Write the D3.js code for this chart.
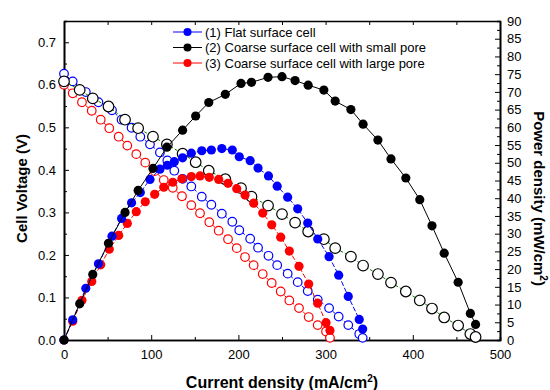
<!DOCTYPE html>
<html>
<head>
<meta charset="utf-8">
<script src="https://cdn.jsdelivr.net/npm/d3@7"></script>
<style>
  body { margin: 0; background: #fff; }
  svg { display: block; font-family: 'Liberation Sans', Arial, sans-serif; }
  .axis path, .axis line { stroke: #000; }
  .axis text { font-size: 13px; fill: #000; }
</style>
</head>
<body>
<svg id="chart" width="550" height="390"></svg>
<script>
// Cell (1) flat surface
const flatCurrent = [0, 10, 25, 39.5, 55, 66, 77.5, 87.5, 98.6, 110, 118.5, 126.5, 136, 146, 158, 169, 181, 193, 201, 213.5, 222.5, 234.5, 244.5, 256.5, 268, 279.5, 291, 304, 315, 326, 338.6, 342.5];
const flatVoltage = [0.626, 0.608, 0.583, 0.559, 0.540, 0.518, 0.499, 0.478, 0.460, 0.441, 0.422, 0.398, 0.379, 0.361, 0.337, 0.318, 0.297, 0.278, 0.258, 0.238, 0.217, 0.198, 0.176, 0.156, 0.136, 0.115, 0.095, 0.075, 0.055, 0.035, 0.014, 0.005];
const flatPower = [0, 5.7, 14.6, 21.5, 29.3, 34.3, 38.7, 41.6, 45.3, 48.2, 49.3, 50.3, 51.4, 52.7, 53.4, 53.6, 54.0, 53.6, 51.7, 50.6, 48.5, 46.3, 43.4, 40.3, 37.0, 33.0, 28.5, 23.5, 18.3, 12.3, 5.8, 3.1];

// Cell (2) coarse surface, small pore
const smallCurrent = [0, 18, 33, 51, 70, 85, 102, 118, 136, 151, 166, 185, 203, 215, 234, 250, 265, 280, 298, 311, 329, 343, 360, 375, 392, 408, 422, 436, 452, 466, 472];
const smallVoltage = [0.608, 0.588, 0.568, 0.549, 0.518, 0.498, 0.478, 0.460, 0.438, 0.418, 0.398, 0.378, 0.357, 0.337, 0.316, 0.296, 0.276, 0.255, 0.237, 0.216, 0.196, 0.175, 0.155, 0.135, 0.114, 0.093, 0.074, 0.053, 0.034, 0.014, 0.007];
const smallPower = [0, 10.2, 18.5, 27.3, 36.0, 42.2, 48.4, 54.4, 59.2, 63.2, 67.0, 69.3, 72.4, 72.7, 74.1, 74.3, 73.2, 71.9, 70.5, 67.4, 65.0, 60.9, 56.4, 51.1, 45.7, 39.6, 32.2, 24.5, 16.3, 7.5, 4.4];

// Cell (3) coarse surface, large pore
const largeCurrent = [0, 10, 20.6, 31.8, 42.1, 51.9, 62.7, 72.6, 82.9, 93.2, 104, 114.4, 124.7, 135.3, 146, 156, 166.6, 177.4, 188.1, 198.1, 207.6, 217.5, 227.9, 238.2, 248.5, 258.4, 269.5, 280.6, 290.9, 300.5, 305];
const largeVoltage = [0.600, 0.580, 0.559, 0.539, 0.518, 0.498, 0.478, 0.457, 0.437, 0.417, 0.397, 0.376, 0.358, 0.338, 0.317, 0.298, 0.277, 0.257, 0.237, 0.216, 0.195, 0.176, 0.155, 0.134, 0.114, 0.093, 0.075, 0.054, 0.035, 0.020, 0.005];
const largePower = [0, 5.3, 11.2, 16.5, 21.2, 25.6, 29.5, 32.9, 36.2, 39.0, 41.1, 43.1, 44.5, 45.5, 46.1, 46.3, 45.9, 45.3, 44.2, 42.7, 40.9, 38.6, 35.8, 32.5, 29.0, 25.1, 20.8, 15.8, 10.4, 4.9, 2.7];

const legendLabels = [
  '(1) Flat surface cell',
  '(2) Coarse surface cell with small pore',
  '(3) Coarse surface cell with large pore',
];

const xTicks = [0, 100, 200, 300, 400, 500];
const voltageTicks = [0, 0.1, 0.2, 0.3, 0.4, 0.5, 0.6, 0.7];
const powerTicks = d3.range(0, 91, 5);

const svg = d3.select('#chart');

const margin = { top: 21, right: 50, bottom: 50, left: 64 };
const W = 550, H = 390;
const plotW = W - margin.left - margin.right;
const plotH = H - margin.top - margin.bottom;

const x = d3.scaleLinear().domain([0, 500]).range([margin.left, margin.left + plotW]);
const yV = d3.scaleLinear().domain([0, 0.75]).range([margin.top + plotH, margin.top]);
const yP = d3.scaleLinear().domain([0, 90]).range([margin.top + plotH, margin.top]);

//
// Axes (ticks point inward)
//

const bottom = margin.top + plotH;
const right = margin.left + plotW;

// bottom
svg.append('g').attr('class', 'axis')
  .attr('transform', `translate(0,${bottom})`)
  .call(d3.axisBottom(x).tickValues(d3.range(50, 500, 100)).tickSize(-3).tickFormat(''));
svg.append('g').attr('class', 'axis')
  .attr('transform', `translate(0,${bottom})`)
  .call(d3.axisBottom(x).tickValues(xTicks).tickSize(-5).tickSizeOuter(0).tickPadding(10));

// top
svg.append('g').attr('class', 'axis')
  .attr('transform', `translate(0,${margin.top})`)
  .call(d3.axisTop(x).tickValues(d3.range(50, 500, 50)).tickSize(-4).tickSizeOuter(0).tickFormat(''));

// left
svg.append('g').attr('class', 'axis')
  .attr('transform', `translate(${margin.left},0)`)
  .call(d3.axisLeft(yV).tickValues(d3.range(0.05, 0.75, 0.1)).tickSize(-3).tickFormat(''));
svg.append('g').attr('class', 'axis')
  .attr('transform', `translate(${margin.left},0)`)
  .call(d3.axisLeft(yV).tickValues(voltageTicks).tickSize(-5).tickSizeOuter(0).tickPadding(8).tickFormat(d3.format('.1f')));

// right
svg.append('g').attr('class', 'axis')
  .attr('transform', `translate(${right},0)`)
  .call(d3.axisRight(yP).tickValues(d3.range(2.5, 90, 5)).tickSize(-3).tickFormat(''));
svg.append('g').attr('class', 'axis')
  .attr('transform', `translate(${right},0)`)
  .call(d3.axisRight(yP).tickValues(powerTicks).tickSize(-5).tickSizeOuter(0).tickPadding(7));

svg.selectAll('.axis path.domain').attr('stroke-width', 1.6);

//
// Axis titles
//

svg.append('text')
  .attr('transform', `translate(22,${margin.top + plotH / 2 + 8}) rotate(-90)`)
  .attr('text-anchor', 'middle')
  .attr('dy', '0.35em')
  .style('font-size', '15px').style('font-weight', 'bold')
  .text('Cell Voltage (V)');

const xTitle = svg.append('text')
  .attr('x', 282).attr('y', 388)
  .attr('text-anchor', 'middle')
  .style('font-size', '16px').style('font-weight', 'bold');
xTitle.append('tspan').text('Current density (mA/cm');
xTitle.append('tspan').attr('dy', -6).style('font-size', '10px').text('2');
xTitle.append('tspan').attr('dy', 6).text(')');

const pTitle = svg.append('text')
  .attr('transform', `translate(534,${margin.top + plotH / 2 + 18}) rotate(90)`)
  .attr('text-anchor', 'middle')
  .style('font-size', '15px').style('font-weight', 'bold');
pTitle.append('tspan').text('Power density (mW/cm');
pTitle.append('tspan').attr('dy', -6).style('font-size', '10px').text('2');
pTitle.append('tspan').attr('dy', 6).text(')');

//
// Series
//

const plot = svg.append('g');

function drawSeries(current, values, yScale, opts) {
  const pts = current.map((c, i) => [c, values[i]]);
  const line = d3.line().x((d) => x(d[0])).y((d) => yScale(d[1]));
  plot.append('path')
    .datum(pts)
    .attr('fill', 'none')
    .attr('stroke', opts.line)
    .attr('stroke-width', 1)
    .attr('stroke-dasharray', opts.dash)
    .attr('d', line);
  plot.append('g').selectAll('circle')
    .data(pts)
    .join('circle')
    .attr('cx', (d) => x(d[0]))
    .attr('cy', (d) => yScale(d[1]))
    .attr('r', opts.r)
    .attr('fill', opts.filled ? opts.color : '#fff')
    .attr('stroke', opts.color)
    .attr('stroke-width', opts.filled ? 0 : 1.2);
}

// voltage (open markers)
drawSeries(flatCurrent, flatVoltage, yV, { color: '#0000ff', line: '#0000ff', dash: '3,2', r: 4.3, filled: false });
drawSeries(largeCurrent, largeVoltage, yV, { color: '#ff0000', line: '#ff0000', dash: '3,2', r: 4.3, filled: false });
drawSeries(smallCurrent, smallVoltage, yV, { color: '#000', line: '#008000', dash: '3,2', r: 5.3, filled: false });

// power (filled markers)
drawSeries(largeCurrent, largePower, yP, { color: '#ff0000', line: '#ff0000', dash: '5,2', r: 4.6, filled: true });
drawSeries(flatCurrent, flatPower, yP, { color: '#0000ff', line: '#0000ff', dash: '5,2', r: 4.6, filled: true });
drawSeries(smallCurrent, smallPower, yP, { color: '#000', line: '#000', dash: null, r: 4.6, filled: true });

//
// Legend
//

const legendColors = ['#0000ff', '#000', '#ff0000'];
const legend = svg.append('g');
legendLabels.forEach((label, i) => {
  const cy = 32 + i * 15.5;
  legend.append('line')
    .attr('x1', 173).attr('x2', 202).attr('y1', cy).attr('y2', cy)
    .attr('stroke', legendColors[i]).attr('stroke-width', 1);
  legend.append('circle')
    .attr('cx', 187.5).attr('cy', cy).attr('r', 4)
    .attr('fill', legendColors[i]);
  legend.append('text')
    .attr('x', 205).attr('y', cy).attr('dy', '0.35em')
    .style('font-size', '13px')
    .text(label);
});
</script>
</body>
</html>
